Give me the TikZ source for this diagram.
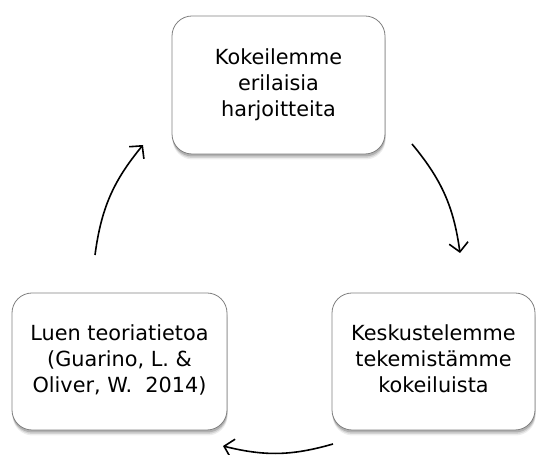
\documentclass[tikz,border=0pt]{standalone}
\usepackage{fontspec}
\newfontfamily\cardfont{DejaVu Sans}
\usetikzlibrary{shadows,arrows.meta}
\newcommand{\cardtext}[1]{\raisebox{-5pt}{\begin{tabular}{@{}c@{}}#1\end{tabular}}}
\tikzset{
  x=1pt, y=1pt,
  card/.style={draw=black!50, line width=0.8pt, fill=white, rounded corners=20pt,
    align=center, inner sep=0pt,
    font=\cardfont\fontsize{20.8}{26}\selectfont,
    drop shadow={shadow xshift=0.6pt, shadow yshift=-5.5pt, opacity=0.07, fill=black},
    drop shadow={shadow xshift=0.5pt, shadow yshift=-4pt, opacity=0.10, fill=black},
    drop shadow={shadow xshift=0.3pt, shadow yshift=-2.5pt, opacity=0.16, fill=black}},
  cyclearrow/.style={-{Straight Barb[length=9pt,width=19pt,line width=1.6pt]},
    line width=1.6pt, black},
}
\begin{document}
\begin{tikzpicture}
\useasboundingbox (0,0) rectangle (536,455);
\fill[white] (0,0) rectangle (536,455);

\node[card, minimum width=213pt, minimum height=138pt] (top) at (278.5,370)
  {\cardtext{Kokeilemme\\erilaisia\\harjoitteita}};
\node[card, minimum width=215pt, minimum height=137pt] (left) at (119.5,93.5)
  {\cardtext{Luen teoriatietoa\\(Guarino, L. \&\\Oliver, W.~~2014)}};
\node[card, minimum width=203pt, minimum height=137pt] (right) at (433.5,93.5)
  {\cardtext{Keskustelemme\\tekemistämme\\kokeiluista}};

\coordinate (a1s) at (95,200);
\coordinate (a1e) at (143,310);
\coordinate (a2s) at (412,311);
\coordinate (a2e) at (460,202);
\coordinate (a3s) at (333,11);
\coordinate (a3e) at (223,9);

\draw[cyclearrow] (a1s) to[bend left=16] (a1e);
\draw[cyclearrow] (a2s) to[bend left=16] (a2e);
\draw[cyclearrow] (a3s) to[bend left=15] (a3e);
\end{tikzpicture}
\end{document}
